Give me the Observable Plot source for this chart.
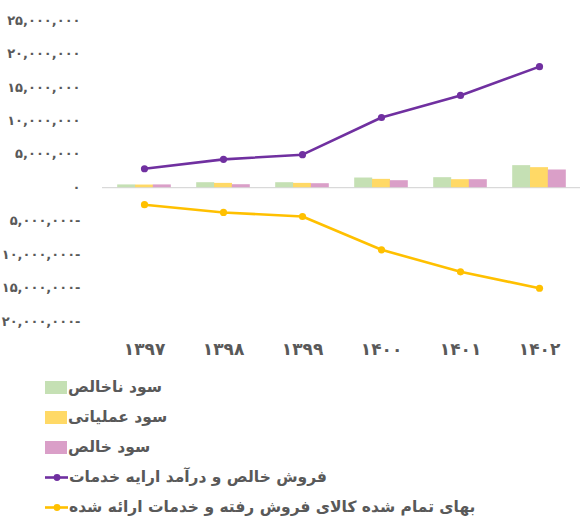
<!DOCTYPE html>
<html>
<head>
<meta charset="utf-8">
<script src="https://cdn.jsdelivr.net/npm/d3@7"></script>
<script src="https://cdn.jsdelivr.net/npm/@observablehq/plot@0.6"></script>
<style>
  html, body { margin: 0; padding: 0; background: #fff; }
  body { width: 584px; height: 526px; overflow: hidden; font-family: "DejaVu Sans", sans-serif; }
  #legend { margin-top: 6px; padding-left: 45px; }
  .row { height: 30px; display: flex; align-items: center; }
  .sw { width: 22px; height: 13px; margin-right: 1px; flex: none; }
  .ln { width: 23px; height: 13px; margin-right: 1px; flex: none; }
  .lab { font-size: 15.5px; font-weight: bold; color: #595959; direction: rtl; unicode-bidi: isolate; }
</style>
</head>
<body>
<div id="chart"></div>
<div id="legend"></div>
<script>
const years = ["۱۳۹۷", "۱۳۹۸", "۱۳۹۹", "۱۴۰۰", "۱۴۰۱", "۱۴۰۲"];
const grossProfit = [420000, 750000, 750000, 1450000, 1500000, 3300000];
const operatingProfit = [400000, 650000, 650000, 1250000, 1200000, 3000000];
const netProfit = [420000, 450000, 600000, 1050000, 1200000, 2650000];
const revenue = [2840000, 4240000, 4940000, 10500000, 13800000, 18100000];
const costOfSales = [-2540000, -3700000, -4300000, -9280000, -12570000, -15030000];
const yTicks = [-20000000, -15000000, -10000000, -5000000, 0, 5000000, 10000000, 15000000, 20000000, 25000000];
const seriesNames = ["سود ناخالص", "سود عملیاتی", "سود خالص", "فروش خالص و درآمد ارایه خدمات", "بهای تمام شده کالای فروش رفته و خدمات ارائه شده"];
const colors = ["#C5E0B4", "#FFD966", "#DA9FC8", "#7030A0", "#FFC000"];

const fa = s => s.replace(/[0-9]/g, d => "۰۱۲۳۴۵۶۷۸۹"[+d]);
const fmt = v => v < 0 ? fa(d3.format(",")(-v)) + "-" : fa(d3.format(",")(v));

const rows = (vals) => years.map((y, i) => ({year: y, value: vals[i]}));
const bw = 17.8;

const chart = Plot.plot({
  width: 584,
  height: 366,
  marginLeft: 102,
  marginRight: 4,
  marginTop: 20,
  marginBottom: 45,
  style: {fontFamily: "DejaVu Sans, sans-serif", color: "#595959", background: "#fff"},
  x: {domain: years, paddingInner: 0.777, paddingOuter: 0.3885, label: null, tickSize: 0, tickPadding: 21},
  y: {domain: [-20000000, 25000000], label: null, ticks: yTicks, tickFormat: fmt, tickSize: 0, tickPadding: 22},
  marks: [
    Plot.ruleY([0], {stroke: "#D9D9D9", strokeWidth: 1.2}),
    Plot.barY(rows(grossProfit), {x: "year", y: "value", fill: colors[0], dx: -bw}),
    Plot.barY(rows(operatingProfit), {x: "year", y: "value", fill: colors[1]}),
    Plot.barY(rows(netProfit), {x: "year", y: "value", fill: colors[2], dx: bw}),
    Plot.line(rows(revenue), {x: "year", y: "value", stroke: colors[3], strokeWidth: 2.6}),
    Plot.dot(rows(revenue), {x: "year", y: "value", fill: colors[3], r: 3.6}),
    Plot.line(rows(costOfSales), {x: "year", y: "value", stroke: colors[4], strokeWidth: 2.6}),
    Plot.dot(rows(costOfSales), {x: "year", y: "value", fill: colors[4], r: 3.6})
  ]
});
chart.querySelectorAll("g[aria-label='y-axis tick label']").forEach(e => {
  e.setAttribute("font-size", "13"); e.setAttribute("font-weight", "bold"); e.setAttribute("direction", "ltr");
});
chart.querySelectorAll("g[aria-label='x-axis tick label']").forEach(e => {
  e.setAttribute("font-size", "17"); e.setAttribute("font-weight", "bold");
});
document.getElementById("chart").appendChild(chart);

const legend = document.getElementById("legend");
seriesNames.forEach((name, i) => {
  const row = document.createElement("div");
  row.className = "row";
  let sw;
  if (i < 3) {
    sw = document.createElement("div");
    sw.className = "sw";
    sw.style.background = colors[i];
  } else {
    sw = document.createElementNS("http://www.w3.org/2000/svg", "svg");
    sw.setAttribute("class", "ln");
    sw.setAttribute("width", 23); sw.setAttribute("height", 13);
    sw.innerHTML = `<line x1="0" x2="23" y1="6.5" y2="6.5" stroke="${colors[i]}" stroke-width="2.6"/><circle cx="12" cy="6.5" r="3.4" fill="${colors[i]}"/>`;
  }
  const lab = document.createElement("span");
  lab.className = "lab";
  lab.textContent = name;
  row.appendChild(sw); row.appendChild(lab);
  legend.appendChild(row);
});
</script>
</body>
</html>
